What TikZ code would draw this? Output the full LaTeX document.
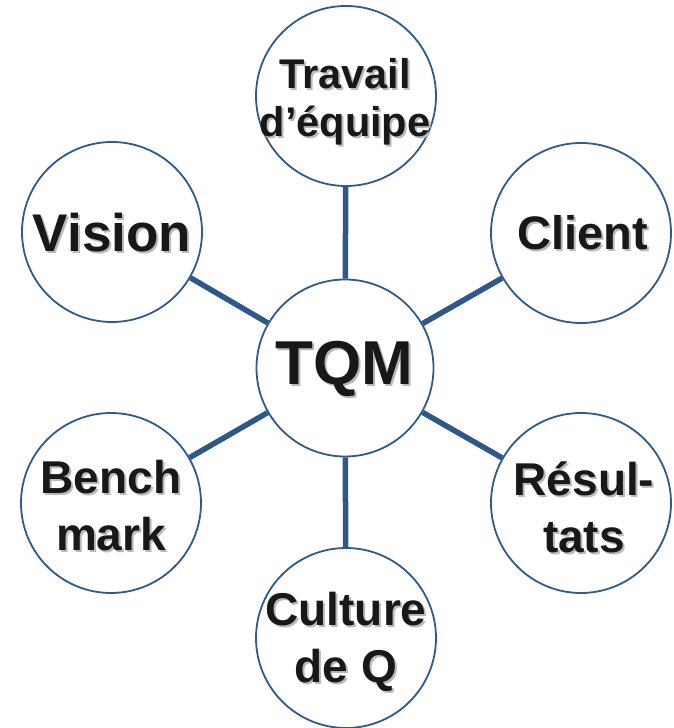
\documentclass[tikz,border=0pt]{standalone}
\usepackage{fontspec}
\setmainfont{Liberation Sans}
\usetikzlibrary{calc}
\definecolor{ringblue}{RGB}{46,91,140}
\definecolor{spokeblue}{RGB}{44,88,138}
\definecolor{inkblack}{RGB}{24,24,24}
\definecolor{shadowgrey}{RGB}{185,185,185}
\tikzset{
  bubble/.style={circle, draw=ringblue, line width=1.8pt, fill=white,
                 minimum size=180pt, inner sep=0pt},
  hubbubble/.style={bubble, minimum size=177pt},
  spoke/.style={draw=spokeblue, line width=5.5pt},
  labeltext/.style={text=inkblack, align=center},
  shadowtext/.style={text=shadowgrey, align=center},
}
% #1 node name, #2 centre, #3 font size, #4 line skip, #5 label
\newcommand\bubblelabel[5]{%
  \node[shadowtext, font=\bfseries\fontsize{#3}{#4}\selectfont]
    (#1-sh) at ($#2+(2pt,-2pt)$) {#5};
  \node[labeltext, font=\bfseries\fontsize{#3}{#4}\selectfont]
    (#1-txt) at #2 {#5};
}
\begin{document}
\begin{tikzpicture}[x=1pt,y=1pt]
  \useasboundingbox (0,0) rectangle (673,728);
  % circles
  \node[hubbubble] (tqm) at (345,360) {};
  \node[bubble] (travail) at (346,632) {};
  \node[bubble] (vision) at (112,496) {};
  \node[bubble] (client) at (581,495) {};
  \node[bubble] (bench) at (111,225) {};
  \node[bubble] (result) at (581,225) {};
  \node[bubble] (culture) at (346,90) {};
  % spokes from the hub
  \draw[spoke] (tqm) -- (travail);
  \draw[spoke] (tqm) -- (vision);
  \draw[spoke] (tqm) -- (client);
  \draw[spoke] (tqm) -- (bench);
  \draw[spoke] (tqm) -- (result);
  \draw[spoke] (tqm) -- (culture);
  % labels
  \bubblelabel{tqm}{(344,359)}{62pt}{70pt}{TQM}
  \bubblelabel{travail}{(345,626)}{41.5pt}{48pt}{Travail\\d’équipe}
  \bubblelabel{vision}{(112,495)}{53pt}{60pt}{Vision}
  \bubblelabel{client}{(583,495)}{47pt}{56pt}{Client}
  \bubblelabel{bench}{(111,222)}{46pt}{57pt}{Bench\\mark}
  \bubblelabel{result}{(584,221)}{46pt}{57pt}{Résul-\\tats}
  \bubblelabel{culture}{(346,86)}{46pt}{57pt}{Culture\\de Q}
\end{tikzpicture}
\end{document}
